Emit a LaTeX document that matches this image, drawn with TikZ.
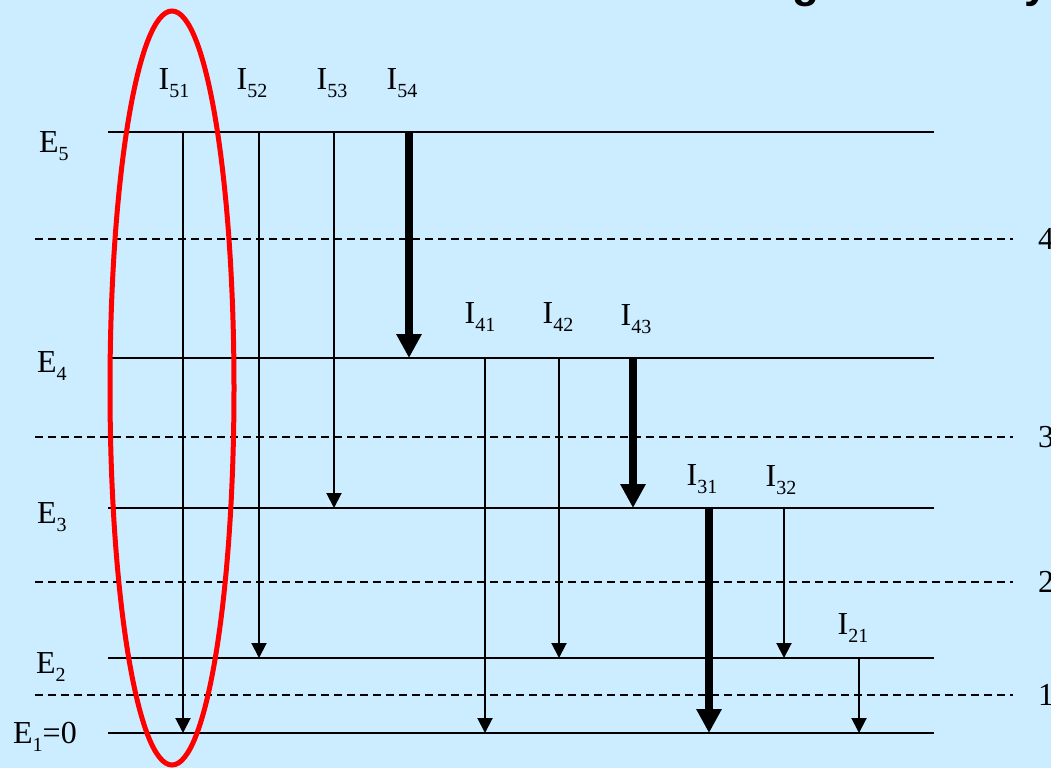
\documentclass[tikz,border=0pt]{standalone}
\usepackage{fontspec}
\setmainfont{Liberation Serif}
\newfontfamily\titlefont{Liberation Sans}
\usetikzlibrary{arrows.meta}
\definecolor{skyback}{RGB}{204,236,255}
\newcommand{\lowidx}[1]{\raisebox{-8pt}{\fontsize{20}{20}\selectfont #1}}

\begin{document}
\begin{tikzpicture}[
    x=1pt, y=-1pt,
    inner sep=0pt,
    font=\fontsize{32}{38}\selectfont,
    elev/.style={line width=2pt},
    band/.style={line width=2pt, dash pattern=on 8pt off 5pt},
    slim/.style={line width=2pt, -{Triangle[length=15pt,width=15pt]}},
    heavy/.style={line width=8pt, -{Triangle[length=24pt,width=24pt]}},
    lab/.style={anchor=base}
  ]
  \fill[skyback] (0,0) rectangle (1051,768);
  \useasboundingbox (0,0) rectangle (1051,768);
  \clip (0,0) rectangle (1051,768);

  % cut-off title
  \node[anchor=base west, font=\titlefont\bfseries\fontsize{44}{44}\selectfont] (headg) at (792,-2) {g};
  \node[anchor=base west, font=\titlefont\bfseries\fontsize{44}{44}\selectfont] (heady) at (1024,-2) {y};

  % levels
  \foreach \n/\y in {5/132,4/358,3/508,2/658,1/733}
    \draw[elev] (108,\y) coordinate (E\n) -- (934,\y) coordinate (E\n end);

  % bands
  \foreach \n/\y in {4/239,3/437,2/582,1/695}{
    \draw[band] (35,\y) coordinate (d\n) -- (1013,\y) coordinate (d\n end);
    \node[anchor=west] (num\n) at (1038,\y) {\n};
  }

  \node[anchor=base west] (lab5) at (39,152) {E\lowidx{5}};
  \node[anchor=base west] (lab4) at (37,372) {E\lowidx{4}};
  \node[anchor=base west] (lab3) at (37,523) {E\lowidx{3}};
  \node[anchor=base west] (lab2) at (36,673) {E\lowidx{2}};
  \node[anchor=base west] (lab1) at (13,743) {E\lowidx{1}=0};

  % transitions
  \foreach \i/\j/\x/\s/\lx/\ly in {5/1/183/slim/174/89, 5/2/259/slim/252/89,
      5/3/334/slim/332/89, 5/4/409/heavy/402/89, 4/1/485/slim/480/323,
      4/2/559/slim/558/323, 4/3/633/heavy/636/325, 3/1/709/heavy/702/485,
      3/2/784/slim/781/486, 2/1/859/slim/853/634}{
    \path (E\i) ++(\x-108,0) coordinate (top\i\j);
    \path (E\j) ++(\x-108,0) coordinate (tip\i\j);
    \draw[\s] (top\i\j) -- (tip\i\j);
    \node[lab] (I\i\j) at (\lx,\ly) {I\lowidx{\i\j}};
  }

  \draw[red, line width=5pt] (172,388) ellipse [x radius=62, y radius=377];
\end{tikzpicture}
\end{document}
